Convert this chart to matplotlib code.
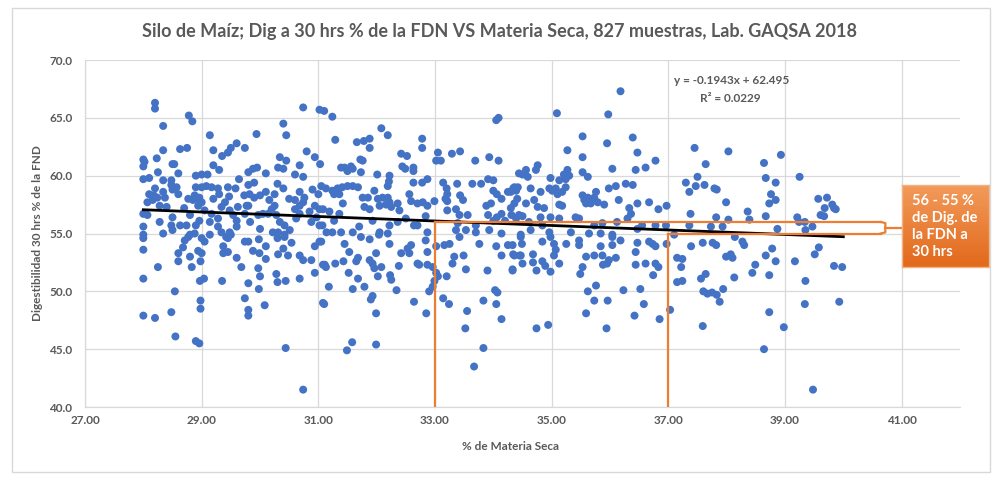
import matplotlib
matplotlib.use("Agg")
import matplotlib.pyplot as plt
import numpy as np
from matplotlib.colors import LinearSegmentedColormap
from matplotlib.patches import Rectangle
from matplotlib import font_manager

# Calibri no está disponible: se usa la primera familia con negrita instalada
_familias = {f.name for f in font_manager.fontManager.ttflist if f.weight in (700, "bold")}
FUENTE = next((f for f in ["Lato", "Open Sans", "Noto Sans", "DejaVu Sans"] if f in _familias),
              "DejaVu Sans")
plt.rcParams["font.family"] = [FUENTE, "DejaVu Sans"]
plt.rcParams["font.weight"] = "bold"

# Puntos: (% materia seca, digestibilidad 30 h % FDN), por zonas
zona_1 = [
    (28.2, 66.3), (28.2, 65.8), (28.34, 64.3), (28.78, 65.2), (28.84, 64.7), (29.14, 63.5),
    (30.74, 65.9), (31.02, 65.7), (31.1, 65.6), (30.4, 64.5), (30.45, 63.5), (29.94, 63.6),
    (28.0, 61.4), (28.02, 61.2), (28.0, 60.8), (28.23, 61.5), (28.34, 62.2), (28.63, 62.3),
    (28.75, 62.4), (29.2, 62.2), (29.35, 61.7), (29.45, 62.0), (29.5, 62.4), (29.6, 62.8),
    (29.74, 62.4), (28.5, 61.0), (28.53, 61.0), (28.6, 60.2), (28.25, 60.3), (28.0, 59.7),
    (28.1, 59.8), (28.34, 59.6), (28.48, 59.6), (28.9, 60.0), (29.0, 60.1), (29.1, 60.1),
    (29.2, 60.9), (29.3, 60.5), (29.64, 59.7), (29.8, 60.3), (29.88, 60.6), (29.95, 60.7),
    (30.1, 60.2), (30.34, 61.6), (30.45, 61.3), (30.31, 60.7), (30.4, 60.6), (30.6, 60.1),
    (30.68, 60.9), (30.74, 59.9), (30.8, 62.1), (30.94, 61.6), (31.03, 61.0),
]
zona_2 = [
    (28.48, 59.2), (28.57, 59.0), (28.5, 58.8), (28.1, 58.4), (28.18, 58.3), (28.24, 58.1),
    (28.16, 57.9), (28.07, 57.7), (28.34, 58.6), (28.37, 58.1), (28.77, 58.0), (28.88, 58.3),
    (28.9, 58.0), (28.96, 58.1), (29.0, 57.7), (28.94, 57.4), (28.85, 57.9), (28.9, 59.0),
    (29.0, 59.0), (29.08, 59.1), (29.17, 59.0), (29.28, 58.9), (29.3, 58.4), (29.45, 59.0),
    (29.47, 58.2), (29.58, 58.9), (29.73, 58.3), (29.8, 59.2), (29.82, 58.4), (29.9, 58.1),
    (29.77, 57.4), (30.0, 58.3), (30.1, 58.6), (30.25, 58.4), (30.16, 57.9), (30.25, 57.4),
    (30.6, 57.9), (30.68, 58.6), (30.76, 58.1), (30.74, 57.7), (30.94, 57.4), (31.02, 57.1),
    (31.08, 57.1), (31.0, 58.4), (31.05, 59.1), (28.0, 56.7), (28.07, 56.6), (28.0, 55.6),
    (28.0, 54.9), (28.28, 57.4), (28.4, 57.3), (28.34, 55.0), (28.28, 56.0), (28.48, 55.7),
    (28.5, 56.4), (28.63, 55.7), (28.74, 55.7), (28.8, 56.6), (28.9, 55.7), (28.96, 56.1),
    (29.14, 56.0), (29.05, 57.0), (29.17, 56.7), (29.28, 56.3), (29.34, 57.3), (29.48, 57.0),
    (29.54, 56.6), (29.48, 55.1), (29.42, 54.7), (29.6, 56.1), (29.62, 57.3), (29.74, 56.7),
    (29.8, 57.4), (29.83, 56.0), (29.97, 56.6), (30.05, 56.7), (30.14, 56.7), (30.28, 56.6),
    (30.34, 56.0), (30.42, 55.7), (30.31, 55.1), (30.51, 55.3), (30.42, 54.9), (30.62, 56.3),
    (30.68, 56.7), (30.85, 56.9), (30.97, 56.4), (31.02, 55.7), (31.14, 55.1), (30.88, 56.0),
    (30.6, 57.1), (30.68, 57.4), (29.14, 54.9), (29.28, 55.6), (29.34, 55.1), (28.8, 54.9),
    (28.88, 55.0), (28.5, 55.3), (28.2, 58.9), (28.6, 58.4), (29.2, 58.0), (29.4, 57.7),
    (30.4, 58.9), (30.5, 58.0), (29.9, 59.4), (30.3, 59.3), (28.7, 57.2), (29.6, 55.6),
    (30.0, 55.4), (30.2, 57.1), (30.9, 58.8),
]
zona_3 = [
    (28.0, 54.6), (28.0, 53.6), (28.71, 54.4), (28.77, 54.7), (28.68, 53.8), (28.6, 53.3),
    (28.8, 53.0), (28.6, 52.6), (28.83, 52.1), (28.25, 52.1), (29.0, 54.6), (29.05, 54.3),
    (28.94, 53.5), (29.0, 53.3), (28.98, 52.6), (28.0, 51.1), (28.97, 50.9), (29.04, 51.1),
    (28.54, 50.0), (28.98, 49.2), (28.98, 48.5), (28.48, 48.2), (28.2, 47.7), (28.0, 47.9),
    (28.55, 46.1), (28.9, 45.7), (28.96, 45.5), (29.37, 53.9), (29.45, 54.6), (29.5, 54.9),
    (29.37, 53.3), (29.45, 53.4), (29.6, 52.9), (29.35, 50.9), (29.68, 52.1), (29.74, 54.3),
    (29.8, 54.3), (29.88, 53.5), (29.98, 54.5), (29.99, 53.3), (30.1, 53.9), (30.1, 52.8),
    (29.8, 50.7), (29.97, 52.0), (30.0, 51.3), (29.98, 50.2), (29.74, 49.4), (29.8, 48.4),
    (29.8, 47.9), (30.08, 48.8), (30.22, 55.1), (30.3, 54.6), (30.42, 54.7), (30.54, 54.2),
    (30.4, 53.7), (30.31, 53.2), (30.48, 53.1), (30.28, 51.5), (30.3, 50.8), (30.44, 50.9),
    (30.68, 51.1), (30.68, 53.1), (30.74, 52.7), (30.88, 52.7), (30.94, 53.9), (31.02, 54.3),
    (31.11, 52.3), (30.94, 51.6), (31.1, 48.9), (30.44, 45.1), (30.74, 41.5),
]
zona_4 = [
    (31.24, 65.1), (32.08, 64.1), (32.19, 63.5), (31.29, 63.1), (31.66, 62.9), (31.78, 63.0),
    (31.88, 63.2), (31.88, 62.4), (32.78, 63.2), (32.78, 62.4), (32.42, 61.9), (32.52, 61.7),
    (33.05, 62.0), (33.02, 61.3), (33.1, 61.3), (33.29, 61.9), (33.43, 62.1), (34.05, 64.8),
    (34.09, 65.0), (33.69, 61.3), (33.93, 61.6), (34.09, 61.3), (31.39, 60.7), (31.45, 60.7),
    (31.56, 60.8), (31.59, 60.6), (31.5, 60.4), (31.72, 61.4), (31.76, 61.3), (31.73, 60.3),
    (32.01, 60.1), (32.22, 60.0), (32.21, 59.5), (32.19, 59.1), (32.44, 60.8), (32.49, 60.6),
    (32.63, 60.7), (32.63, 60.4), (32.63, 59.4), (32.78, 59.4), (32.87, 59.7), (33.14, 59.4),
    (33.2, 58.9), (33.21, 58.4), (33.18, 58.0), (33.21, 57.8), (33.38, 59.3), (33.43, 58.3),
    (33.48, 57.9), (33.64, 59.3), (33.79, 59.3), (33.91, 59.7), (34.0, 59.6), (34.0, 58.7),
    (34.06, 58.4), (33.88, 57.4), (33.96, 57.6), (34.14, 58.0), (34.25, 58.6), (34.34, 58.9),
    (34.42, 59.0), (31.13, 58.9), (31.24, 58.7), (31.33, 58.9), (31.41, 59.0), (31.5, 59.1),
    (31.59, 59.1), (31.68, 59.0), (31.27, 58.4), (31.36, 58.4), (31.76, 58.1), (31.85, 58.1),
    (31.96, 58.7), (32.02, 58.0), (32.1, 58.1), (32.19, 58.1), (32.22, 57.7), (31.79, 57.3),
    (31.88, 57.1), (32.05, 57.4), (32.16, 57.5), (32.25, 57.3), (32.36, 57.6), (32.39, 57.0),
    (32.56, 58.4), (32.59, 57.8), (32.7, 57.6), (32.79, 57.7), (32.87, 57.4), (32.99, 57.8),
    (31.19, 56.9), (31.36, 56.7), (31.42, 57.6), (31.27, 56.1), (31.07, 55.7), (31.24, 55.1),
    (31.39, 55.1), (31.59, 55.1), (31.7, 55.6), (31.93, 56.1), (32.05, 55.1), (32.22, 55.7),
    (32.19, 55.0), (32.36, 56.0), (32.5, 56.3), (32.64, 55.7), (32.7, 55.7), (32.84, 56.5),
    (32.87, 55.1), (33.21, 57.0), (33.36, 57.1), (33.42, 56.6), (33.39, 55.9), (33.56, 56.6),
    (33.7, 55.7), (33.91, 56.6), (34.0, 56.1), (34.06, 56.4), (34.14, 56.7), (34.2, 56.1),
    (34.31, 56.6), (34.39, 56.3), (33.36, 55.3), (33.53, 55.3), (33.7, 55.1), (33.93, 55.3),
    (34.14, 55.0),
]
zona_5 = [
    (31.05, 54.3), (31.73, 54.7), (31.88, 54.5), (32.04, 54.9), (32.22, 54.1), (31.45, 54.1),
    (31.53, 53.4), (31.68, 52.9), (31.65, 52.6), (31.08, 52.3), (31.13, 52.1), (31.29, 52.4),
    (31.43, 52.6), (31.88, 52.7), (31.93, 52.4), (31.99, 53.3), (32.08, 52.1), (31.96, 52.0),
    (32.02, 51.3), (31.52, 51.6), (31.68, 51.1), (31.59, 50.2), (31.79, 50.4), (31.18, 50.4),
    (32.23, 51.4), (32.25, 51.0), (32.34, 50.1), (32.38, 52.2), (31.9, 49.3), (31.93, 49.6),
    (31.99, 48.1), (31.08, 49.0), (31.58, 45.6), (31.49, 44.9), (31.99, 45.4), (32.42, 53.3),
    (32.53, 53.7), (32.59, 54.0), (32.56, 53.3), (32.7, 52.4), (32.73, 52.3), (32.87, 52.3),
    (32.84, 54.4), (32.87, 53.4), (32.96, 52.1), (32.99, 50.9), (32.96, 50.4), (32.9, 50.0),
    (32.64, 49.1), (32.85, 48.1), (33.02, 51.6), (33.05, 51.3), (33.2, 51.3), (33.14, 49.4),
    (33.24, 48.9), (33.02, 53.9), (33.16, 54.0), (33.25, 54.1), (33.33, 53.0), (33.3, 52.4),
    (33.42, 54.7), (33.76, 54.1), (34.05, 53.9), (34.25, 54.0), (34.14, 53.1), (34.34, 53.2),
    (34.45, 53.1), (33.49, 53.1), (33.53, 51.9), (33.9, 51.8), (34.33, 51.9), (34.03, 50.1),
    (34.07, 49.9), (34.05, 48.9), (33.83, 49.2), (34.14, 47.6), (33.55, 48.3), (33.52, 46.8),
    (33.83, 45.1), (33.67, 43.5),
]
zona_6 = [
    (36.18, 67.3), (35.09, 65.4), (35.97, 65.3), (35.53, 63.4), (36.39, 63.3), (35.95, 62.8),
    (35.27, 62.2), (35.53, 61.6), (36.47, 62.0), (36.78, 61.3), (37.45, 62.4), (34.76, 60.9),
    (34.73, 60.5), (34.56, 60.5), (34.44, 60.2), (34.5, 60.1), (34.59, 59.9), (35.27, 60.5),
    (35.21, 60.1), (35.3, 60.0), (35.24, 59.7), (35.13, 59.6), (34.98, 59.8), (35.53, 60.3),
    (35.62, 59.9), (36.04, 60.6), (36.44, 60.5), (36.61, 60.7), (34.36, 59.0), (34.39, 58.7),
    (34.3, 58.6), (34.64, 58.9), (34.81, 58.6), (35.07, 58.9), (35.18, 58.6), (35.24, 59.0),
    (34.96, 58.9), (35.01, 58.7), (35.1, 58.4), (35.98, 58.9), (36.1, 59.1), (36.27, 59.3),
    (36.39, 59.2), (37.3, 59.4), (37.36, 58.6), (37.47, 59.1), (37.5, 59.9), (35.53, 58.3),
    (35.62, 58.1), (35.56, 57.9), (35.76, 58.6), (35.73, 58.1), (35.79, 57.7), (35.67, 57.6),
    (35.59, 57.6), (34.56, 57.6), (34.7, 57.9), (34.76, 57.3), (34.87, 57.2), (34.36, 57.6),
    (34.41, 58.0), (34.3, 57.2), (34.44, 56.6), (34.5, 56.5), (35.13, 57.5), (35.18, 57.4),
    (34.98, 56.4), (35.13, 56.3), (35.41, 56.4), (35.47, 56.3), (35.9, 57.5), (36.15, 57.9),
    (36.33, 57.2), (36.36, 56.7), (36.47, 57.6), (36.67, 57.7), (36.83, 57.1), (36.97, 57.4),
    (37.38, 56.7), (34.81, 56.4), (34.61, 56.0), (34.84, 55.7), (35.73, 55.7), (35.87, 55.9),
    (36.12, 56.0), (36.3, 56.3), (36.55, 55.7), (36.78, 55.7), (36.96, 55.7), (37.36, 55.7),
    (34.47, 54.9), (34.64, 55.3), (34.96, 55.1), (35.33, 55.1), (35.64, 55.0), (35.84, 55.0),
    (36.04, 54.9), (36.47, 55.4), (37.1, 54.9),
]
zona_7 = [
    (34.47, 54.7), (34.49, 54.1), (34.33, 54.0), (34.36, 53.1), (34.47, 53.1), (34.5, 52.4),
    (34.33, 51.8), (34.84, 54.3), (34.98, 54.7), (35.04, 54.1), (35.07, 53.6), (35.04, 53.1),
    (35.13, 52.4), (34.68, 53.2), (34.68, 52.5), (34.74, 51.8), (34.84, 52.6), (34.89, 52.2),
    (34.98, 51.7), (35.25, 54.1), (35.47, 54.4), (35.47, 54.0), (35.84, 53.9), (36.04, 54.7),
    (36.04, 54.0), (36.18, 54.4), (35.59, 53.0), (35.73, 53.1), (35.87, 53.1), (35.98, 52.7),
    (36.1, 52.9), (35.95, 52.4), (35.88, 52.3), (35.53, 52.1), (35.49, 51.5), (35.76, 50.5),
    (35.62, 50.0), (35.73, 49.2), (35.96, 49.2), (36.23, 50.1), (35.59, 48.1), (36.42, 47.9),
    (36.58, 48.9), (36.52, 50.2), (35.94, 46.8), (34.74, 46.8), (34.94, 47.1), (36.47, 54.2),
    (36.44, 53.4), (36.44, 52.3), (36.61, 52.4), (36.74, 51.4), (36.67, 54.3), (36.73, 54.1),
    (36.78, 53.9), (36.78, 52.4), (36.83, 52.1), (36.97, 54.1), (36.85, 47.6), (37.03, 48.4),
    (37.15, 52.9), (37.24, 52.8), (37.22, 52.1), (37.15, 50.8), (37.24, 50.9), (37.39, 53.9),
]
zona_8 = [
    (38.03, 62.1), (37.64, 61.0), (37.62, 59.2), (37.79, 58.9), (37.83, 58.8), (38.93, 61.8),
    (38.64, 61.1), (38.67, 59.8), (38.84, 59.4), (39.25, 59.9), (38.76, 58.4), (38.84, 57.9),
    (38.73, 57.6), (37.99, 57.7), (38.36, 56.9), (38.39, 56.2), (38.67, 56.5), (38.03, 56.2),
    (37.82, 56.4), (37.73, 55.6), (37.93, 55.6), (39.57, 58.0), (39.72, 58.1), (39.68, 57.2),
    (39.81, 57.5), (39.84, 57.2), (39.87, 57.1), (39.61, 56.6), (39.67, 56.5), (39.21, 56.4),
    (39.24, 56.0), (39.34, 56.0), (39.35, 55.3), (39.47, 55.6), (38.87, 55.4), (38.14, 54.7),
    (38.27, 54.3), (38.3, 54.0), (37.59, 54.2), (37.76, 54.2), (37.82, 54.0), (38.78, 53.7),
    (38.67, 53.1), (38.84, 52.6), (37.99, 53.0), (38.07, 53.2), (38.1, 52.9), (39.58, 53.8),
    (39.51, 53.2), (39.17, 52.6), (38.49, 52.3), (38.44, 51.6), (38.73, 51.4), (38.13, 51.2),
    (39.84, 52.2), (39.98, 52.1), (37.64, 51.5), (39.35, 50.9), (37.56, 51.1), (37.6, 50.0),
    (37.67, 49.8), (37.75, 49.9), (37.83, 49.7), (37.88, 49.1), (37.94, 50.2), (38.73, 48.2),
    (39.34, 48.9), (39.93, 49.1), (37.59, 47.0), (38.98, 46.9), (38.64, 45.0), (39.48, 41.5),
]

# Tendencia lineal reportada en el gráfico
pendiente = -0.1943
intercepto = 62.495
r2 = 0.0229
rango_tendencia = [28.0, 40.0]

x_ticks = [27, 29, 31, 33, 35, 37, 39, 41]
y_ticks = [40, 45, 50, 55, 60, 65, 70]

# Rango destacado en naranja
ms_limites = [33, 37]
dig_limites = [56, 55]

GRIS = "#595959"
AZUL = "#4472C4"
NARANJA = "#ED7D31"

puntos = np.array(zona_1 + zona_2 + zona_3 + zona_4 + zona_5 + zona_6 + zona_7 + zona_8)

fig = plt.figure(figsize=(10, 4.79), dpi=100)
ax = fig.add_axes([0.085, 0.1503, 0.875, 0.7244])
ax.set_xlim(27, 42)
ax.set_ylim(40, 70)
ax.set_xticks(x_ticks)
ax.set_xticklabels([f"{t:.2f}" for t in x_ticks], fontweight="bold")
ax.set_yticks(y_ticks)
ax.set_yticklabels([f"{t:.1f}" for t in y_ticks], fontweight="bold")
ax.tick_params(length=0, labelsize=8.5, labelcolor=GRIS)
ax.tick_params(axis="y", pad=9)
ax.tick_params(axis="x", pad=6)
ax.grid(True, color="#D9D9D9", linewidth=0.9)
ax.set_axisbelow(True)
for side in ("top", "right"):
    ax.spines[side].set_visible(False)
for side in ("left", "bottom"):
    ax.spines[side].set_color("#D9D9D9")
    ax.spines[side].set_linewidth(0.9)

ax.scatter(puntos[:, 0], puntos[:, 1], s=33, color=AZUL, edgecolors="none", zorder=3)

xt = np.array(rango_tendencia)
ax.plot(xt, pendiente * xt + intercepto, color="black", linewidth=2, zorder=4)

# Líneas naranjas del rango 33-37 % MS y 56-55 % Dig.
ax.plot([ms_limites[0]] * 2, [40, dig_limites[0]], color=NARANJA, lw=1.6, zorder=5)
ax.plot([ms_limites[1]] * 2, [40, dig_limites[1]], color=NARANJA, lw=1.6, zorder=5)
ax.plot([ms_limites[0], 40.64], [dig_limites[0]] * 2, color=NARANJA, lw=1.6, zorder=5)
ax.plot([ms_limites[1], 40.64], [dig_limites[1]] * 2, color=NARANJA, lw=1.6, zorder=5)
ax.plot([40.64, 40.72, 40.72, 40.64], [56, 55.9, 55.1, 55], color=NARANJA, lw=1.6,
        zorder=5, clip_on=False)
ax.plot([40.72, 41.0], [55.5, 55.5], color=NARANJA, lw=1.6, zorder=5, clip_on=False)

fig.text(0.732, 1 - 81 / 479, f"y = {pendiente}x + {intercepto}", ha="center", va="center",
         fontsize=8.5, color=GRIS, fontweight="bold")
fig.text(0.730, 1 - 98 / 479, f"R² = {r2}", ha="center", va="center", fontsize=8.5, color=GRIS,
         fontweight="bold")

fig.text(0.5, 1 - 32 / 479,
         "Silo de Maíz; Dig a 30 hrs % de la FDN VS Materia Seca, 827 muestras, Lab. GAQSA 2018",
         ha="center", va="center", fontsize=13, color=GRIS, fontweight="bold")
fig.text(0.038, 0.513, "Digestibilidad 30 hrs % de la FND", rotation=90, ha="center",
         va="center", fontsize=8.5, color=GRIS, fontweight="bold")
fig.text(0.51, 1 - 446 / 479, "% de Materia Seca", ha="center", va="center", fontsize=8.5,
         color=GRIS, fontweight="bold")

# Recuadro naranja con degradado
caja = fig.add_axes([0.902, 0.4426, 0.087, 0.1712])
degradado = LinearSegmentedColormap.from_list("naranja", ["#F29B5C", "#E2691B"])
caja.imshow(np.linspace(0, 1, 64).reshape(-1, 1) * np.ones((1, 8)), cmap=degradado,
            aspect="auto", extent=[0, 1, 0, 1], origin="upper")
caja.set_xticks([])
caja.set_yticks([])
for s in caja.spines.values():
    s.set_color("#F4B183")
    s.set_linewidth(1)
for i, linea in enumerate(["56 - 55 %", "de Dig. de", "la FDN a", "30 hrs"]):
    caja.text(0.12, 0.8 - i * 0.207, linea, transform=caja.transAxes, ha="left", va="center",
              color="white", fontsize=10.5, fontweight="bold")

fig.patches.append(Rectangle((0.012, 0.015), 0.978, 0.968, transform=fig.transFigure,
                             fill=False, edgecolor="#D9D9D9", linewidth=1))

fig.savefig("out.png", dpi=100)
